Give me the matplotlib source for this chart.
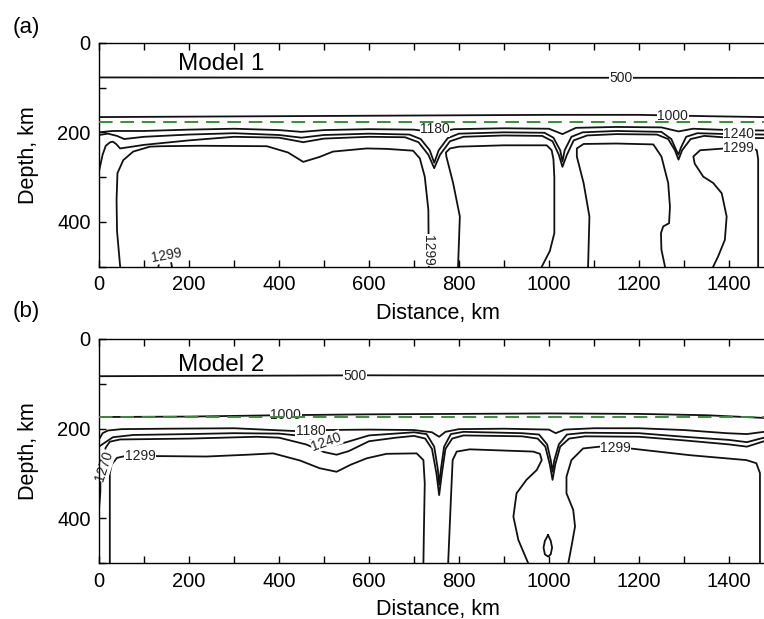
import matplotlib
matplotlib.use('Agg')
import matplotlib.pyplot as plt
from matplotlib.ticker import MultipleLocator

plt.rcParams['font.family'] = ['Liberation Sans', 'DejaVu Sans']

XMAX = 1478   # km, right edge of the sections
DMAX = 500    # km, bottom of the sections

# ---------------- Model 1 : isotherm traces (distance km, depth km) ----------------
a_t500_x = [0, 400, 800, 1200, 1478]
a_t500_d = [77.5, 77.8, 78.0, 78.3, 78.5]

a_t1000_x = [0, 200, 400, 600, 800, 1000, 1200, 1350, 1478]
a_t1000_d = [166, 165, 164, 163, 162, 161, 161, 164, 166]

a_t1180_x = [0, 30, 100, 200, 300, 400, 450, 500, 600, 700, 745, 790, 900, 1000,
             1030, 1060, 1150, 1250, 1288, 1320, 1400, 1478]
a_t1180_d = [200, 197, 197, 194, 192, 195, 199, 195, 193, 194, 200, 193, 191, 192,
             204, 190, 188, 189, 198, 192, 195, 196]

a_t1240_x = [0, 20, 40, 56, 100, 200, 300, 400, 450, 500, 600, 690, 715, 735, 745,
             755, 775, 800, 900, 990, 1010, 1025, 1030, 1035, 1050, 1075, 1150,
             1250, 1272, 1283, 1288, 1293, 1305, 1330, 1400, 1478]
a_t1240_d = [206, 203, 208, 215, 210, 205, 202, 206, 212, 206, 203, 205, 215, 240, 268,
             240, 213, 203, 200, 201, 212, 240, 265, 240, 210, 200, 197,
             199, 215, 240, 250, 235, 210, 202, 204, 205]

a_t1270_x = [0, 8, 15, 25, 31, 38, 47, 100, 200, 300, 400, 454, 500, 600, 680, 710,
             732, 745, 758, 780, 810, 900, 985, 1008, 1022, 1030, 1040, 1055, 1085,
             1150, 1240, 1265, 1280, 1288, 1296, 1315, 1345, 1400, 1478]
a_t1270_d = [287, 250, 230, 222, 221, 226, 236, 228, 218, 210, 212, 222, 214, 210, 211, 222,
             250, 280, 250, 220, 210, 207, 208, 220, 250, 277, 250, 218, 207,
             204, 205, 215, 240, 261, 240, 215, 208, 212, 213]

a_cell1_x = [47, 40, 39, 41, 54, 76, 113, 139, 224, 373, 420, 454, 490, 520, 595,
             640, 698, 713, 724, 732, 733]
a_cell1_d = [500, 420, 351, 291, 262, 243, 232, 231, 230, 231, 245, 266, 255, 243, 236,
             237, 241, 258, 299, 373, 500]

a_arc_x = [132, 134, 147, 160, 162]
a_arc_d = [500, 487, 484, 488, 500]

a_cell2_x = [798, 802, 787, 772, 771, 780, 800, 900, 995, 1006, 1010, 1012, 1012, 1002, 984]
a_cell2_d = [500, 388, 313, 254, 245, 236, 232, 229, 229, 240, 260, 300, 425, 465, 500]

a_cell3_x = [1087, 1090, 1077, 1062, 1062, 1077, 1150, 1232, 1250, 1265, 1269, 1267,
             1254, 1249, 1250, 1258]
a_cell3_d = [500, 388, 313, 254, 236, 226, 225, 227, 254, 313, 366, 403,
             410, 425, 462, 500]

a_cell4_x = [1365, 1376, 1391, 1395, 1384, 1365, 1343, 1324, 1321, 1336, 1391, 1422,
             1453, 1462, 1465, 1465]
a_cell4_d = [500, 477, 440, 388, 336, 313, 299, 270, 254, 240, 236, 236,
             236, 240, 260, 500]

a_labels = [(1160, 78, '500', 0), (1275, 163, '1000', 0), (747, 193, '1180', 0),
            (1422, 204, '1240', 0), (1422, 236, '1299', 0), (150, 475, '1299', 10),
            (731, 463, '1299', -90)]

# ---------------- Model 2 ----------------
b_t500_x = [0, 300, 600, 1000, 1478]
b_t500_d = [83, 82, 81, 82, 82]

b_t1000_x = [0, 200, 400, 600, 800, 1000, 1200, 1350, 1478]
b_t1000_d = [174, 173, 170, 168, 167, 166, 167, 170, 176]

b_t1180_x = [0, 8, 20, 50, 150, 300, 430, 470, 500, 600, 700, 740, 756, 770, 800,
             900, 1000, 1015, 1035, 1100, 1200, 1300, 1395, 1440, 1478]
b_t1180_d = [224, 210, 204, 201, 200, 199, 205, 207, 203, 202, 203, 208, 218, 207, 201,
             200, 202, 210, 202, 199, 199, 203, 210, 212, 207]

b_t1240_x = [0, 10, 31, 76, 200, 300, 400, 450, 490, 520, 550, 600, 700, 728, 745,
             753, 756, 760, 767, 782, 810, 940, 978, 996, 1004, 1008, 1012, 1022,
             1040, 1080, 1200, 1300, 1400, 1440, 1478]
b_t1240_d = [240, 233, 219, 214, 212, 210, 211, 216, 228, 238, 230, 215, 208, 212, 240,
             290, 325, 290, 240, 212, 207, 210, 213, 235, 270, 296, 270, 235,
             213, 209, 210, 218, 225, 230, 220]

b_t1270_x = [0, 3, 3, 8, 15, 24, 47, 202, 350, 400, 460, 500, 528, 555, 600, 660,
             700, 725, 740, 750, 756, 762, 770, 785, 810, 940, 975, 992, 1002, 1008,
             1014, 1025, 1045, 1080, 1200, 1300, 1400, 1440, 1478]
b_t1270_d = [380, 340, 300, 265, 242, 229, 224, 222, 218, 220, 235, 252, 258, 250, 228, 220,
             216, 222, 245, 300, 348, 300, 245, 222, 215, 217, 222, 240, 280, 314,
             280, 240, 222, 217, 218, 226, 235, 240, 228]

b_cell1_x = [24, 24, 28, 40, 58, 124, 239, 330, 387, 447, 490, 528, 560, 595, 639,
             706, 721, 724, 722, 721]
b_cell1_d = [500, 300, 280, 265, 261, 261, 262, 258, 255, 271, 288, 296, 280, 266, 256,
             255, 270, 322, 433, 500]

b_cell2_x = [776, 782, 786, 795, 824, 965, 980, 984, 973, 950, 928, 921, 932, 954]
b_cell2_d = [500, 359, 270, 251, 246, 251, 256, 270, 292, 314, 344, 396, 448, 500]

b_cell3_x = [1043, 1050, 1058, 1054, 1039, 1039, 1050, 1076, 1113, 1148, 1180, 1313,
             1439, 1461, 1469, 1469]
b_cell3_d = [500, 463, 418, 381, 344, 307, 270, 244, 240, 242, 244, 259,
             270, 277, 299, 500]

b_drop_x = [998, 1004, 1007, 1004, 998, 991, 988, 991, 998]
b_drop_d = [437, 450, 465, 480, 485, 480, 465, 450, 437]

b_labels = [(568, 82, '500', 0), (415, 170, '1000', 0), (470, 206, '1180', 0),
            (505, 229, '1240', 20), (12, 283, '1270', 72), (91, 261, '1299', 0),
            (1148, 243, '1299', 0)]

GREEN_A = 178   # dashed reference depth, Model 1
GREEN_B = 175   # dashed reference depth, Model 2

LINE = '#111111'

fig = plt.figure(figsize=(7.64, 6.19), dpi=100)
ax_a = fig.add_axes([0.1296, 0.5691, 0.8704, 0.3619])
ax_b = fig.add_axes([0.1296, 0.0900, 0.8704, 0.3624])


def style(ax):
    ax.set_xlim(0, XMAX)
    ax.set_ylim(DMAX, 0)
    ax.xaxis.set_major_locator(MultipleLocator(200))
    ax.xaxis.set_minor_locator(MultipleLocator(100))
    ax.yaxis.set_major_locator(MultipleLocator(200))
    ax.yaxis.set_minor_locator(MultipleLocator(100))
    ax.tick_params(which='both', direction='in', length=5, width=1,
                   top=True, right=False, labelsize=14.5, pad=6)
    ax.spines['right'].set_visible(False)
    for s in ['left', 'top', 'bottom']:
        ax.spines[s].set_linewidth(1)
    ax.set_xlabel('Distance, km', fontsize=15.5)
    ax.xaxis.set_label_coords(0.509, -0.16)
    ax.set_ylabel('Depth, km', fontsize=15.5)
    ax.yaxis.set_label_coords(-0.090, 0.5)


def iso(ax, xs, ds):
    ax.plot(xs, ds, color=LINE, lw=1.3, solid_joinstyle='round', zorder=2)


def tag(ax, labels):
    for x, d, s, rot in labels:
        ax.text(x, d, s, fontsize=10, ha='center', va='center', rotation=rot,
                rotation_mode='anchor', color='#222222', zorder=2.2,
                bbox=dict(fc='white', ec='none', pad=0.3))


for xs, ds in [(a_t500_x, a_t500_d), (a_t1000_x, a_t1000_d), (a_t1180_x, a_t1180_d),
               (a_t1240_x, a_t1240_d), (a_t1270_x, a_t1270_d), (a_cell1_x, a_cell1_d),
               (a_arc_x, a_arc_d), (a_cell2_x, a_cell2_d), (a_cell3_x, a_cell3_d),
               (a_cell4_x, a_cell4_d)]:
    iso(ax_a, xs, ds)
tag(ax_a, a_labels)
ax_a.axhline(GREEN_A, color='#3c8c3c', lw=1.4, ls=(0, (7, 4)), zorder=4)
ax_a.text(272, 62, 'Model 1', fontsize=17.5, ha='center', va='baseline', zorder=3)
style(ax_a)

for xs, ds in [(b_t500_x, b_t500_d), (b_t1000_x, b_t1000_d), (b_t1180_x, b_t1180_d),
               (b_t1240_x, b_t1240_d), (b_t1270_x, b_t1270_d), (b_cell1_x, b_cell1_d),
               (b_cell2_x, b_cell2_d), (b_cell3_x, b_cell3_d), (b_drop_x, b_drop_d)]:
    iso(ax_b, xs, ds)
tag(ax_b, b_labels)
ax_b.axhline(GREEN_B, color='#3c8c3c', lw=1.4, ls=(0, (7, 4)), zorder=4)
ax_b.text(272, 70.5, 'Model 2', fontsize=17.5, ha='center', va='baseline', zorder=3)
style(ax_b)

fig.text(26 / 764, 1 - 27 / 619, '(a)', fontsize=16, ha='center', va='center')
fig.text(26 / 764, 1 - 311 / 619, '(b)', fontsize=16, ha='center', va='center')

fig.savefig('out.png', dpi=100)
